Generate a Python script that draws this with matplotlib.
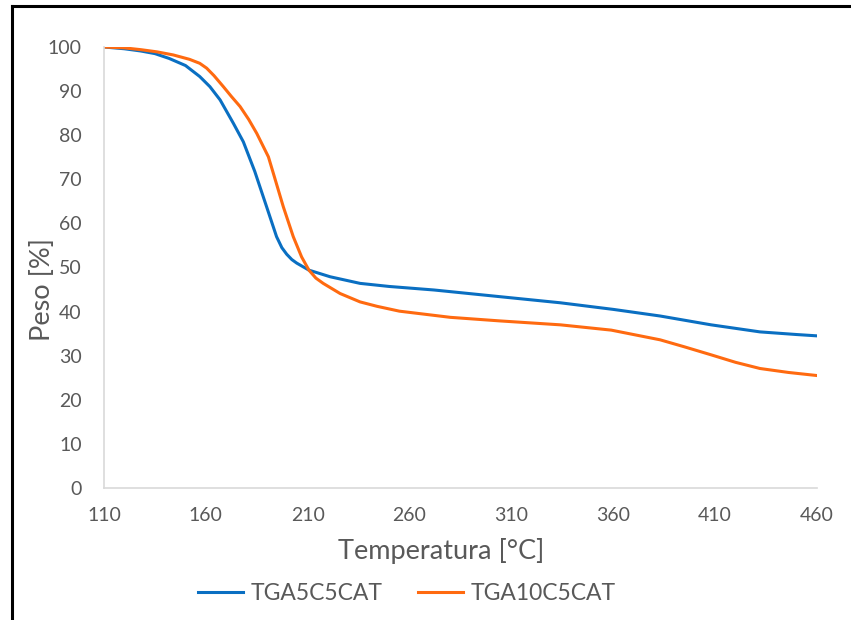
import matplotlib.pyplot as plt
from matplotlib.lines import Line2D

# readings
temp_a = [110, 120, 128, 135, 142, 150, 157, 162, 167, 173.5, 178.4, 184, 189.8, 194.7,
          197.3, 199.7, 202.2, 204.6, 210.6, 221, 235.7, 250, 272, 304, 334, 360, 383,
          408, 432, 450, 460]
peso_a = [100, 99.6, 99.1, 98.5, 97.4, 95.8, 93.3, 91.0, 88.0, 82.7, 78.5, 71.8, 63.8,
          57.0, 54.5, 53.0, 51.8, 51.0, 49.4, 47.9, 46.4, 45.7, 44.9, 43.4, 42.0, 40.5,
          39.0, 37.0, 35.4, 34.8, 34.5]

temp_b = [110, 120, 128, 136, 144, 152, 157, 160.4, 164, 168.6, 172.5, 176.8, 181, 185,
          190.7, 193.1, 198, 202.9, 207, 210.6, 214, 217.6, 225.9, 235.7, 244, 255, 280,
          304, 334, 359, 383, 395, 408, 420, 432, 446, 460]
peso_b = [100, 99.8, 99.4, 98.9, 98.2, 97.2, 96.3, 95.2, 93.5, 91.0, 88.8, 86.5, 83.6,
          80.4, 75.1, 71.4, 63.8, 57.0, 52.4, 49.4, 47.6, 46.4, 44.1, 42.2, 41.2, 40.1,
          38.7, 37.9, 37.0, 35.8, 33.6, 32.0, 30.2, 28.5, 27.1, 26.2, 25.5]

names = ['TGA5C5CAT', 'TGA10C5CAT']
x_ticks = [110, 160, 210, 260, 310, 360, 410, 460]
y_ticks = list(range(0, 101, 10))

text_col = '#595959'
plt.rcParams['font.family'] = ['Lato', 'DejaVu Sans']

fig = plt.figure(figsize=(8.51, 6.2), dpi=100)
ax = fig.add_axes([104 / 851, 1 - 488 / 620, (817 - 104) / 851, (488 - 47) / 620])

ax.plot(temp_a, peso_a, color='#0A6FC2', lw=2.2, label=names[0])
ax.plot(temp_b, peso_b, color='#FF6A10', lw=2.2, label=names[1])

ax.set_xlim(110, 460)
ax.set_ylim(0, 100)
ax.set_xticks(x_ticks)
ax.set_yticks(y_ticks)
ax.tick_params(length=0, labelsize=14, labelcolor=text_col)
ax.tick_params(axis='x', pad=14)
ax.tick_params(axis='y', pad=16)

for s in ['top', 'right']:
    ax.spines[s].set_visible(False)
for s in ['left', 'bottom']:
    ax.spines[s].set_color('#D9D9D9')
    ax.spines[s].set_linewidth(1.2)

ax.set_xlabel('Temperatura [°C]', fontsize=19.5, color=text_col)
ax.set_ylabel('Peso [%]', fontsize=19.5, color=text_col)
ax.xaxis.set_label_coords(0.473, -0.113)
ax.yaxis.set_label_coords(-0.069, 0.45)

ax.legend(loc='center', bbox_to_anchor=(407 / 851, 1 - 594 / 620),
          bbox_transform=fig.transFigure, ncol=2, frameon=False,
          fontsize=16.5, labelcolor=text_col, handlelength=1.95, columnspacing=1.55,
          handletextpad=0.35)

# black frame at the left and top edges
fig.add_artist(Line2D([12 / 851, 12 / 851], [0, 1 - 6 / 620], color='black', lw=2.2,
                      transform=fig.transFigure))
fig.add_artist(Line2D([12 / 851, 1], [1 - 6 / 620, 1 - 6 / 620], color='black', lw=2.2,
                      transform=fig.transFigure))

fig.savefig('out.png', dpi=100)
